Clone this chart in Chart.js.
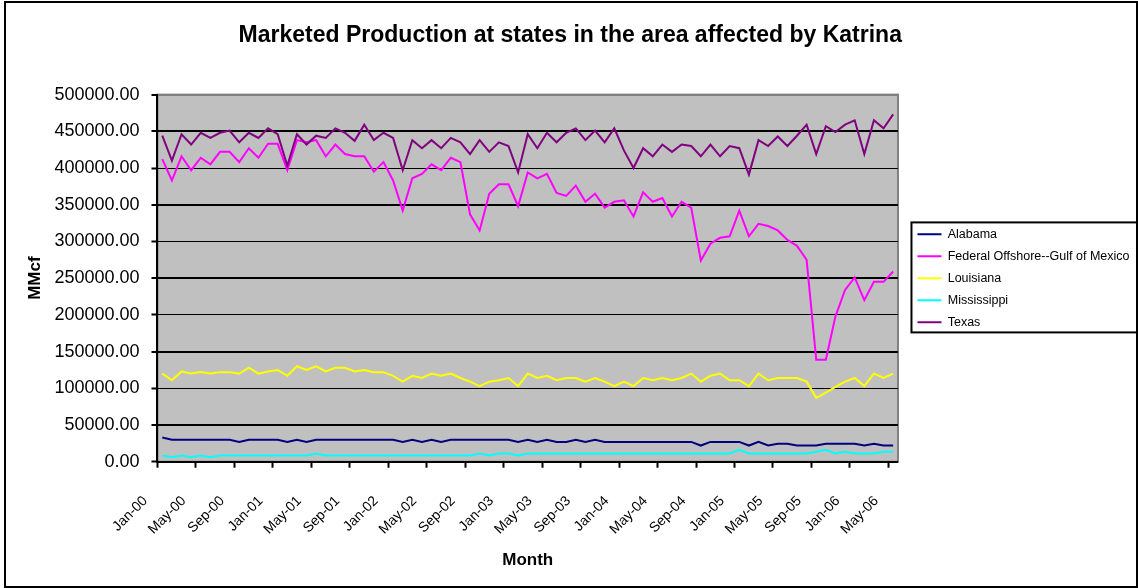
<!DOCTYPE html>
<html>
<head>
<meta charset="utf-8">
<title>Marketed Production at states in the area affected by Katrina</title>
<script src="https://cdn.jsdelivr.net/npm/chart.js@4.4.1/dist/chart.umd.min.js"></script>
<style>
  body { margin: 0; background: #fff; }
  #wrap { width: 1138px; height: 588px; }
</style>
</head>
<body>
<div id="wrap"><canvas id="myChart" width="1138" height="588"></canvas></div>
<script>
// month labels Jan-00 .. May-06
var monthNames = ["Jan", "Feb", "Mar", "Apr", "May", "Jun", "Jul", "Aug", "Sep", "Oct", "Nov", "Dec"];
var years = ["00", "01", "02", "03", "04", "05", "06"];
var months = [];
years.forEach(function(y) {
  monthNames.forEach(function(m) {
    if (months.length < 77) months.push(m + "-" + y);
  });
});

// MMcf
var alabama = [33000, 30000, 30000, 30000, 30000, 30000, 30000, 30000, 27000, 30000,
  30000, 30000, 30000, 27000, 30000, 27000, 30000, 30000, 30000, 30000,
  30000, 30000, 30000, 30000, 30000, 27000, 30000, 27000, 30000, 27000,
  30000, 30000, 30000, 30000, 30000, 30000, 30000, 27000, 30000, 27000,
  30000, 27000, 27000, 30000, 27000, 30000, 27000, 27000, 27000, 27000,
  27000, 27000, 27000, 27000, 27000, 27000, 22000, 27000, 27000, 27000,
  27000, 22000, 27000, 22000, 24500, 24500, 22000, 22000, 22000, 24500,
  24500, 24500, 24500, 22000, 24500, 22000, 22000];
var federalOffshore = [412000, 383000, 416000, 397000, 414000, 405000, 422000, 422000, 408000, 427000,
  414000, 433000, 433000, 397000, 438000, 435000, 438000, 416000, 432000, 419000,
  416000, 416000, 395000, 408000, 383000, 342000, 386000, 392000, 405000, 397000,
  414000, 408000, 337000, 315000, 365000, 378000, 378000, 348000, 394000, 386000,
  392000, 366000, 362000, 376000, 354000, 365000, 346000, 354000, 356000, 334000,
  367000, 354000, 359000, 334000, 354000, 346000, 274000, 297000, 305000, 307000,
  342000, 307000, 324000, 321000, 315000, 302000, 294000, 275000, 139000, 139000,
  198000, 234000, 251000, 220000, 245000, 245000, 259000];
var louisiana = [120000, 111000, 123000, 120000, 122000, 120000, 122000, 122000, 120000, 128000,
  120000, 123000, 125000, 117000, 130000, 125000, 130000, 123000, 128000, 128000,
  123000, 125000, 122000, 122000, 117000, 109000, 117000, 114000, 120000, 117000,
  120000, 114000, 109000, 103000, 109000, 111000, 114000, 103000, 120000, 114000,
  117000, 111000, 114000, 114000, 109000, 114000, 109000, 103000, 109000, 103000,
  114000, 111000, 114000, 111000, 114000, 120000, 109000, 117000, 120000, 111000,
  111000, 103000, 120000, 111000, 114000, 114000, 114000, 109000, 87000, 94000,
  102000, 109000, 114000, 103000, 120000, 114000, 120000];
var mississippi = [8500, 6000, 8500, 6000, 8500, 6000, 8500, 8500, 8500, 8500,
  8500, 8500, 8500, 8500, 8500, 8500, 11300, 8500, 8500, 8500,
  8500, 8500, 8500, 8500, 8500, 8500, 8500, 8500, 8500, 8500,
  8500, 8500, 8500, 11300, 8500, 11300, 11300, 8500, 11300, 11300,
  11300, 11300, 11300, 11300, 11300, 11300, 11300, 11300, 11300, 11300,
  11300, 11300, 11300, 11300, 11300, 11300, 11300, 11300, 11300, 11300,
  16300, 11300, 11300, 11300, 11300, 11300, 11300, 11300, 13600, 16300,
  11300, 13600, 11300, 11300, 11300, 13600, 13600];
var texas = [444000, 410000, 446000, 432000, 448000, 441000, 448000, 451000, 435000, 448000,
  441000, 454000, 446000, 403000, 446000, 432000, 444000, 441000, 454000, 448000,
  437000, 459000, 438000, 448000, 441000, 397000, 438000, 427000, 438000, 427000,
  441000, 435000, 419000, 438000, 422000, 435000, 430000, 394000, 446000, 427000,
  448000, 435000, 448000, 454000, 438000, 451000, 435000, 454000, 424000, 400000,
  427000, 416000, 432000, 422000, 432000, 430000, 416000, 432000, 416000, 430000,
  427000, 391000, 438000, 430000, 443000, 430000, 444000, 459000, 419000, 457000,
  449000, 459000, 465000, 419000, 465000, 454000, 473000];

Chart.defaults.font.family = '"Liberation Sans", Arial, sans-serif';
Chart.defaults.color = "#000";

// white page, outer frame, grey plot area, and the box round the legend
var frame = {
  id: "frame",
  beforeDraw: function(chart) {
    var ctx = chart.ctx, a = chart.chartArea;
    ctx.save();
    ctx.fillStyle = "#fff";
    ctx.fillRect(0, 0, chart.width, chart.height);
    ctx.strokeStyle = "#000";
    ctx.lineWidth = 2;
    ctx.strokeRect(5, 2, 1132, 585);
    ctx.fillStyle = "#c0c0c0";
    ctx.fillRect(a.left, a.top, a.right - a.left, a.bottom - a.top);
    ctx.strokeStyle = "#808080";
    ctx.strokeRect(a.left, a.top, a.right - a.left, a.bottom - a.top);
    ctx.restore();
    // move the legend entries a bit away from the plot
    chart.legend.left = a.right + 10;
  },
  afterDraw: function(chart) {
    var ctx = chart.ctx, lg = chart.legend;
    var pad = lg.options.labels.padding;
    var size = lg.options.labels.font.size;
    var colH = chart.data.datasets.length * (size + pad);
    var y0 = (lg.top + pad + lg.bottom - colH) / 2;
    ctx.save();
    ctx.strokeStyle = "#000";
    ctx.lineWidth = 2;
    ctx.strokeRect(lg.left + pad - 6, y0 - 5.5, 1137 - (lg.left + pad - 6), colH);
    ctx.restore();
  }
};

var ctx = document.getElementById("myChart").getContext("2d");
var myChart = new Chart(ctx, {
  type: "line",
  data: {
    labels: months,
    datasets: [
      { label: "Alabama", data: alabama, borderColor: "#000080", borderWidth: 2, order: 5 },
      { label: "Federal Offshore--Gulf of Mexico", data: federalOffshore, borderColor: "#ff00ff", borderWidth: 2, order: 4 },
      { label: "Louisiana", data: louisiana, borderColor: "#ffff00", borderWidth: 2, order: 3 },
      { label: "Mississippi", data: mississippi, borderColor: "#00ffff", borderWidth: 2, order: 2 },
      { label: "Texas", data: texas, borderColor: "#800080", borderWidth: 2, order: 1 }
    ]
  },
  options: {
    responsive: false,
    animation: false,
    layout: { padding: { left: 11, right: 8.5, top: 0, bottom: 0 } },
    elements: {
      line: { tension: 0, fill: false },
      point: { radius: 0, hoverRadius: 0 }
    },
    plugins: {
      title: {
        display: true,
        text: "Marketed Production at states in the area affected by Katrina",
        font: { size: 23, weight: "bold" },
        color: "#000",
        padding: { top: 22, bottom: 45 }
      },
      legend: {
        position: "right",
        fullSize: false,
        labels: {
          usePointStyle: true,
          pointStyle: "line",
          pointStyleWidth: 24,
          padding: 9.5,
          font: { size: 12.5 },
          color: "#000",
          sort: function(a, b) { return a.datasetIndex - b.datasetIndex; }
        }
      },
      tooltip: { enabled: false }
    },
    scales: {
      x: {
        offset: true,
        grid: {
          offset: true,
          drawOnChartArea: false,
          tickLength: 6,
          tickWidth: 2,
          tickColor: function(c) { return c.index % 4 === 0 ? "#000" : "rgba(0,0,0,0)"; }
        },
        border: { color: "#000", width: 2 },
        ticks: {
          autoSkip: false,
          minRotation: 45,
          maxRotation: 45,
          padding: 25,
          labelOffset: -17,
          font: { size: 14 },
          callback: function(v, i) { return i % 4 === 0 ? months[i] : ""; }
        },
        title: {
          display: true,
          text: "Month",
          font: { size: 17, weight: "bold" },
          padding: { top: -12, bottom: 17 }
        }
      },
      y: {
        min: 0,
        max: 500000,
        grid: {
          color: function(c) { return c.tick && c.tick.value === 500000 ? "#808080" : "#000"; },
          lineWidth: function(c) {
            if (!c.tick) return 1;
            var n = c.tick.value / 50000;
            return (n % 2 === 1 || n === 10) ? 2 : 1;
          },
          tickLength: 6,
          tickWidth: 2,
          tickColor: "#000"
        },
        border: { color: "#000", width: 2 },
        ticks: {
          stepSize: 50000,
          padding: 12,
          font: { size: 18 },
          callback: function(v) { return v.toFixed(2); }
        },
        title: {
          display: true,
          text: "MMcf",
          font: { size: 17, weight: "bold" },
          padding: { top: 14, bottom: -3 }
        }
      }
    }
  },
  plugins: [frame]
});
</script>
</body>
</html>
